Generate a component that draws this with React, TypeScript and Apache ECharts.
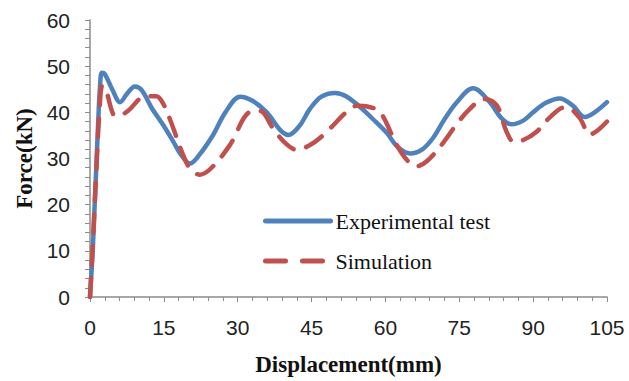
import React, { useEffect, useRef } from "react";
import * as echarts from "echarts";

const xTicks = [0, 15, 30, 45, 60, 75, 90, 105];
const yTicks = [0, 10, 20, 30, 40, 50, 60];

const seriesNames = ["Experimental test", "Simulation"];

const experimental: [number, number][] = [
  [0, 0], [0.55, 10], [0.95, 20], [1.35, 30], [1.75, 40], [2.0, 45], [2.4, 48.6], [3.0, 48.3],
  [4.5, 45], [6.1, 42.2], [7.5, 44], [9.1, 45.6], [10.5, 44.8], [12.5, 41], [14.9, 37.2],
  [17, 33.5], [18.5, 30.8], [20.3, 28.9], [22, 30.5], [25, 35.1], [27.5, 40], [30.5, 43.4],
  [33, 42.5], [35.9, 40], [38.6, 36.2], [40.3, 35.1], [42.5, 37], [44.7, 40.8], [47, 43.4],
  [49.8, 44.2], [52, 43.5], [54.8, 41.2], [57.5, 38.5], [60.3, 35.5], [62.5, 32.5], [65, 31.1],
  [67.5, 32], [69.7, 34.5], [72, 38.5], [74.5, 42.2], [77.8, 45.2], [81.2, 42.2], [83.5, 38.8],
  [85.6, 37.4], [88, 38.2], [90, 40], [92.5, 42], [95.4, 43], [98, 41.5], [100.5, 39.0],
  [102.5, 40], [105, 42.2],
];

const simulation: [number, number][] = [
  [0, 0], [0.5, 10], [0.95, 20], [1.4, 30], [1.9, 40], [2.5, 45.8], [3.2, 45], [4.7, 39.6],
  [5.7, 39.2], [7.8, 40.4], [10.8, 43.3], [13.5, 43.5], [14.8, 42], [16.2, 38.6], [18.9, 30.8],
  [20.5, 27.5], [22.3, 26.5], [24.7, 28], [28.4, 32.9], [32.5, 40.1], [34.5, 40.3], [37.2, 36.5],
  [39.5, 33.5], [42, 31.9], [44.5, 32.8], [47.4, 35.1], [52.8, 40.8], [54.2, 41.4], [56.5, 41.2],
  [58.9, 40.1], [62.3, 32.9], [64.5, 29.5], [66.3, 28.3], [68.4, 29.4], [71.8, 33.5], [74.5, 37.5],
  [77.2, 40.8], [79.9, 42.9], [82.6, 41.5], [84.6, 35.8], [86, 33.7], [88, 34], [90.7, 35.8],
  [93, 38.5], [95.5, 40.8], [96.8, 41.1], [99.5, 38.7], [101.5, 35.2], [103, 36], [105, 38],
];

const BLUE = "#4F81BD";
const RED = "#C0504D";
const AXIS = "#8c8c8c";

export default function App() {
  const ref = useRef<HTMLDivElement>(null);
  useEffect(() => {
    if (!ref.current) return;
    const chart = echarts.init(ref.current, undefined, { renderer: "svg" });
    const tickFont = "'Liberation Sans', Arial, sans-serif";
    const serif = "'Liberation Serif', 'Times New Roman', serif";
    chart.setOption({
      animation: false,
      backgroundColor: "#ffffff",
      grid: { left: 90, right: 22, top: 20, bottom: 80, containLabel: false },
      legend: {
        orient: "vertical",
        left: 263,
        top: 210,
        padding: 0,
        itemWidth: 65,
        itemHeight: 14,
        itemGap: 18,
        itemStyle: { opacity: 0 },
        lineStyle: { width: 5, cap: "round" },
        textStyle: { fontFamily: serif, fontSize: 22, color: "#111" },
        data: [
          { name: seriesNames[0], itemStyle: { opacity: 0 }, lineStyle: { width: 5, cap: "round" } },
          { name: seriesNames[1], itemStyle: { opacity: 0 }, lineStyle: { width: 5, cap: "round", type: [20, 17] } },
        ],
      },
      xAxis: {
        type: "value",
        min: 0,
        max: 105,
        interval: 15,
        name: "Displacement(mm)",
        nameLocation: "middle",
        nameGap: 56,
        nameTextStyle: { fontFamily: serif, fontSize: 23, fontWeight: "bold", color: "#111" },
        axisLine: { show: true, lineStyle: { color: AXIS, width: 1.5 } },
        axisTick: { show: true, length: 5, lineStyle: { color: AXIS } },
        minorTick: { show: true, splitNumber: 5, length: 4, lineStyle: { color: AXIS } },
        splitLine: { show: false },
        axisLabel: {
          margin: 20,
          fontFamily: tickFont,
          fontSize: 21,
          color: "#222",
          formatter: (v: number) => (xTicks.includes(v) ? String(v) : ""),
        },
      },
      yAxis: {
        type: "value",
        min: 0,
        max: 60,
        interval: 10,
        name: "Force(kN)",
        nameLocation: "middle",
        nameGap: 53,
        nameTextStyle: { fontFamily: serif, fontSize: 23, fontWeight: "bold", color: "#111" },
        axisLine: { show: true, lineStyle: { color: AXIS, width: 1.5 } },
        axisTick: { show: true, length: 5, lineStyle: { color: AXIS } },
        minorTick: { show: true, splitNumber: 5, length: 5, lineStyle: { color: AXIS } },
        splitLine: { show: false },
        axisLabel: {
          margin: 20,
          fontFamily: tickFont,
          fontSize: 21,
          color: "#222",
          formatter: (v: number) => (yTicks.includes(v) ? String(v) : ""),
        },
      },
      series: [
        {
          name: seriesNames[0],
          type: "line",
          data: experimental,
          smooth: 0.35,
          symbol: "none",
          z: 2,
          lineStyle: { color: BLUE, width: 4.5, cap: "round", join: "round" },
          itemStyle: { color: BLUE },
        },
        {
          name: seriesNames[1],
          type: "line",
          data: simulation,
          smooth: 0.35,
          symbol: "none",
          z: 3,
          lineStyle: { color: RED, width: 4.5, type: [19, 13], cap: "round", join: "round" },
          itemStyle: { color: RED },
        },
      ],
    });
    return () => chart.dispose();
  }, []);
  return <div ref={ref} style={{ width: 629, height: 381, position: "absolute", left: 0, top: 0 }} />;
}
